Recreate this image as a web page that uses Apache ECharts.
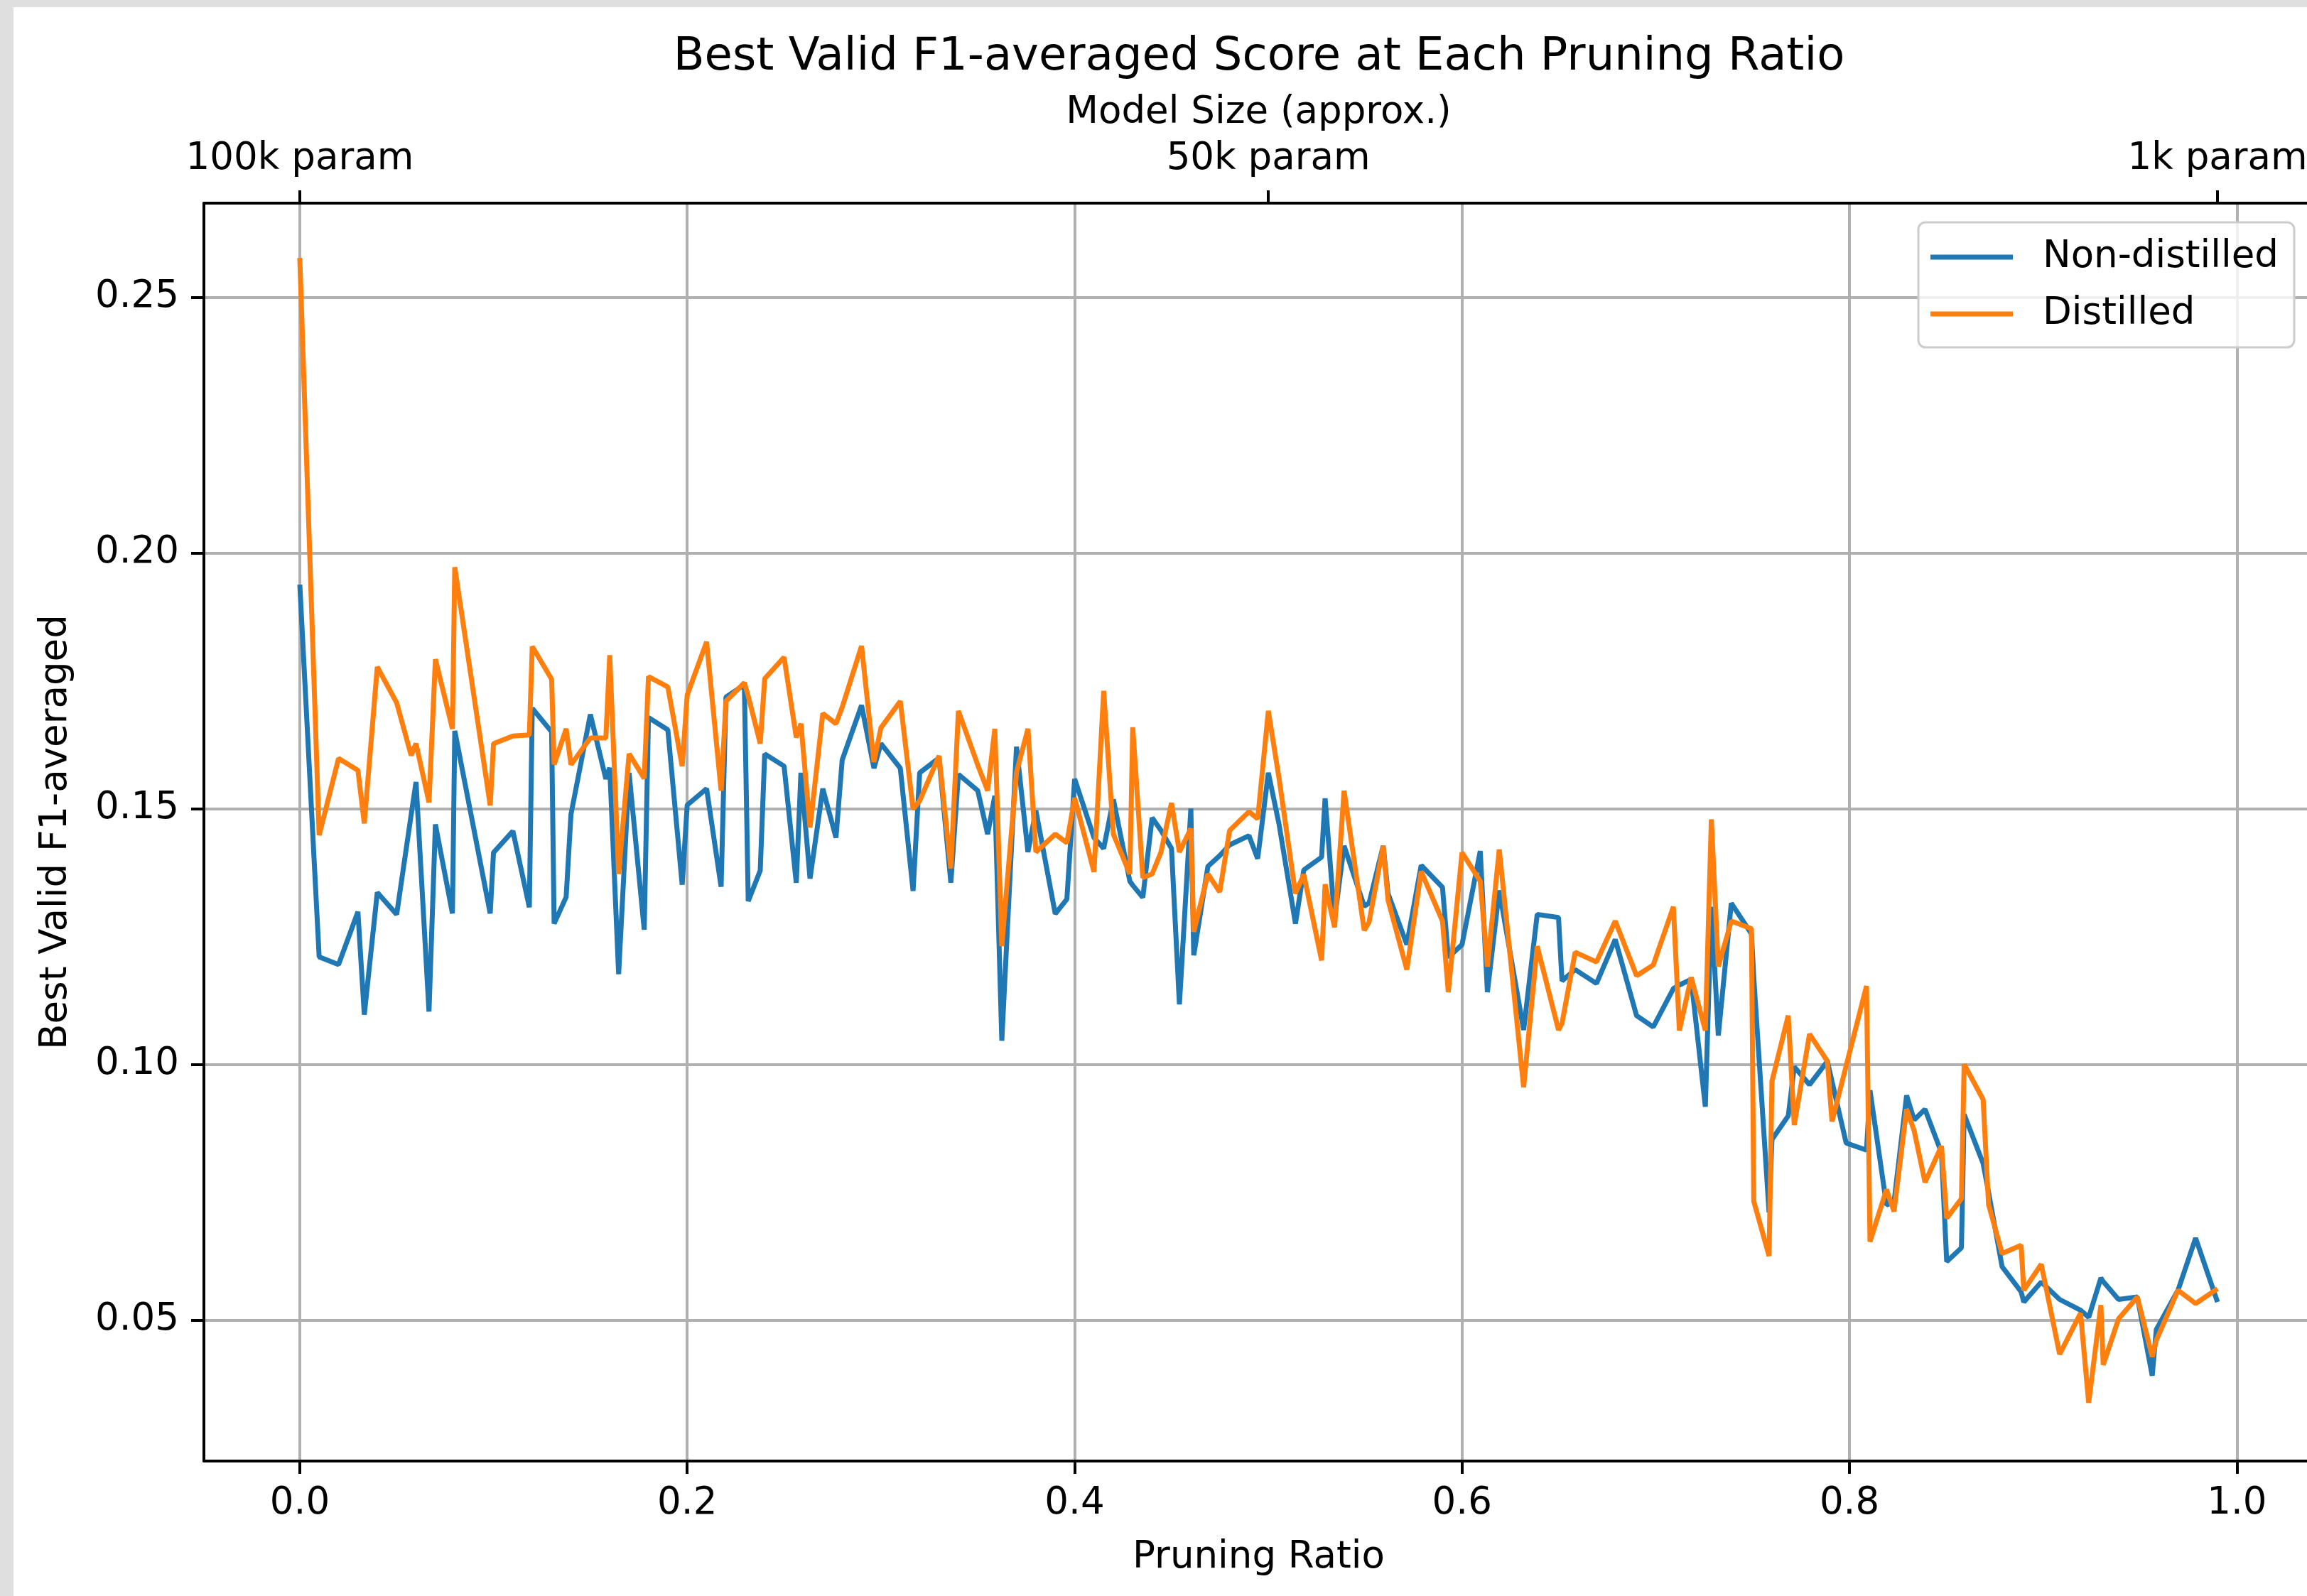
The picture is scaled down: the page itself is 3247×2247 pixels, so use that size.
<!DOCTYPE html>
<html>
<head>
<meta charset="utf-8">
<script src="https://cdn.jsdelivr.net/npm/echarts@6/dist/echarts.min.js"></script>
<style>
  html, body { margin: 0; padding: 0; background: #dfdfdf; }
  #chart { position: absolute; left: 19px; top: 10px; width: 3228px; height: 2237px; background: #fff; }
</style>
</head>
<body>
<div id="chart"></div>
<script>
// pruning ratios (x)
const ratios = [
  0, 0.01, 0.02, 0.03, 0.0333, 0.04, 0.05, 0.0575, 0.06, 0.0667,
  0.07, 0.0788, 0.08, 0.0983, 0.1, 0.11, 0.1185, 0.12, 0.13, 0.1313,
  0.1375, 0.14, 0.15, 0.158, 0.16, 0.1646, 0.17, 0.1778, 0.18, 0.19,
  0.1974, 0.2, 0.21, 0.2175, 0.22, 0.2295, 0.2315, 0.2377, 0.24, 0.25,
  0.2563, 0.2587, 0.2634, 0.27, 0.2768, 0.28, 0.29, 0.2964, 0.3, 0.31,
  0.3166, 0.32, 0.33, 0.3361, 0.34, 0.35, 0.3551, 0.3588, 0.3624, 0.37,
  0.3759, 0.38, 0.39, 0.396, 0.4, 0.41, 0.415, 0.42, 0.4285, 0.43,
  0.4352, 0.44, 0.4446, 0.45, 0.4541, 0.46, 0.4615, 0.4688, 0.4749, 0.48,
  0.49, 0.4945, 0.5, 0.5055, 0.514, 0.5183, 0.5275, 0.5293, 0.5342, 0.5391,
  0.5495, 0.552, 0.5593, 0.5618, 0.5715, 0.5789, 0.5899, 0.5929, 0.6, 0.6094,
  0.6131, 0.6192, 0.6318, 0.6388, 0.6498, 0.6516, 0.6584, 0.6694, 0.6791, 0.6901,
  0.6987, 0.7091, 0.7122, 0.7183, 0.7256, 0.7287, 0.7323, 0.739, 0.7494, 0.7506,
  0.7585, 0.76, 0.7684, 0.7715, 0.7794, 0.7886, 0.791, 0.7983, 0.8088, 0.8106,
  0.8191, 0.823, 0.8295, 0.8334, 0.839, 0.8475, 0.8502, 0.8578, 0.8592, 0.869,
  0.8718, 0.8788, 0.8886, 0.89, 0.899, 0.9085, 0.9193, 0.9235, 0.9298, 0.931,
  0.9389, 0.9486, 0.9563, 0.9584, 0.9696, 0.9787, 0.99
]

const nonDistilled = [
  0.1938, 0.1210, 0.1195, 0.1298, 0.1097, 0.1336, 0.1293, 0.1488, 0.1552, 0.1103,
  0.1469, 0.1295, 0.1652, 0.1295, 0.1414, 0.1456, 0.1307, 0.1696, 0.1650, 0.1275,
  0.1327, 0.1489, 0.1684, 0.1558, 0.1580, 0.1176, 0.1570, 0.1263, 0.1678, 0.1654,
  0.1351, 0.1507, 0.1539, 0.1347, 0.1718, 0.1742, 0.1319, 0.1379, 0.1607, 0.1583,
  0.1355, 0.1570, 0.1363, 0.1539, 0.1443, 0.1595, 0.1702, 0.1579, 0.1627, 0.1579,
  0.1339, 0.1570, 0.1599, 0.1355, 0.1567, 0.1535, 0.1450, 0.1525, 0.1046, 0.1621,
  0.1415, 0.1496, 0.1294, 0.1323, 0.1558, 0.1443, 0.1422, 0.1518, 0.1358, 0.1350,
  0.1326, 0.1482, 0.1457, 0.1422, 0.1117, 0.1500, 0.1213, 0.1387, 0.1408, 0.1429,
  0.1447, 0.1402, 0.1570, 0.1470, 0.1275, 0.1380, 0.1405, 0.1520, 0.1284, 0.1427,
  0.1309, 0.1315, 0.1427, 0.1334, 0.1234, 0.1389, 0.1346, 0.1209, 0.1234, 0.1417,
  0.1141, 0.1340, 0.1067, 0.1293, 0.1287, 0.1163, 0.1185, 0.1158, 0.1244, 0.1095,
  0.1073, 0.1148, 0.1155, 0.1166, 0.0917, 0.1308, 0.1056, 0.1315, 0.1255, 0.1170,
  0.0710, 0.0853, 0.0899, 0.0995, 0.0960, 0.1006, 0.0966, 0.0846, 0.0832, 0.0949,
  0.0725, 0.0730, 0.0939, 0.0891, 0.0912, 0.0827, 0.0614, 0.0641, 0.0902, 0.0806,
  0.0750, 0.0604, 0.0555, 0.0535, 0.0574, 0.0540, 0.0519, 0.0505, 0.0582, 0.0575,
  0.0540, 0.0545, 0.0391, 0.0481, 0.0558, 0.0660, 0.0535
]

const distilled = [
  0.2577, 0.1448, 0.1598, 0.1575, 0.1471, 0.1777, 0.1707, 0.1604, 0.1627, 0.1512,
  0.1792, 0.1656, 0.1972, 0.1506, 0.1627, 0.1642, 0.1644, 0.1817, 0.1753, 0.1586,
  0.1656, 0.1586, 0.1638, 0.1638, 0.1800, 0.1372, 0.1607, 0.1559, 0.1758, 0.1738,
  0.1583, 0.1722, 0.1826, 0.1535, 0.1710, 0.1746, 0.1720, 0.1627, 0.1754, 0.1796,
  0.1639, 0.1666, 0.1463, 0.1686, 0.1666, 0.1698, 0.1818, 0.1591, 0.1658, 0.1710,
  0.1499, 0.1515, 0.1603, 0.1383, 0.1691, 0.1585, 0.1535, 0.1656, 0.1231, 0.1571,
  0.1656, 0.1415, 0.1450, 0.1433, 0.1521, 0.1376, 0.1730, 0.1450, 0.1372, 0.1659,
  0.1365, 0.1372, 0.1415, 0.1511, 0.1415, 0.1461, 0.1259, 0.1372, 0.1337, 0.1457,
  0.1494, 0.1480, 0.1691, 0.1560, 0.1334, 0.1371, 0.1203, 0.1352, 0.1268, 0.1535,
  0.1262, 0.1278, 0.1427, 0.1321, 0.1185, 0.1377, 0.1280, 0.1141, 0.1414, 0.1358,
  0.1191, 0.1420, 0.0955, 0.1231, 0.1067, 0.1080, 0.1219, 0.1200, 0.1280, 0.1173,
  0.1194, 0.1308, 0.1066, 0.1170, 0.1066, 0.1479, 0.1191, 0.1280, 0.1265, 0.0732,
  0.0625, 0.0967, 0.1095, 0.0881, 0.1059, 0.1006, 0.0888, 0.0997, 0.1153, 0.0653,
  0.0755, 0.0712, 0.0912, 0.0870, 0.0769, 0.0840, 0.0699, 0.0737, 0.1000, 0.0931,
  0.0726, 0.0630, 0.0646, 0.0558, 0.0609, 0.0433, 0.0513, 0.0338, 0.0529, 0.0412,
  0.0502, 0.0545, 0.0428, 0.0460, 0.0558, 0.0532, 0.0561
]

const xTicks = [0, 0.2, 0.4, 0.6, 0.8, 1.0]
const xTickLabels = ['0.0', '0.2', '0.4', '0.6', '0.8', '1.0']
const yTicks = [0.05, 0.10, 0.15, 0.20, 0.25]
const yTickLabels = ['0.05', '0.10', '0.15', '0.20', '0.25']
const sizeTicks = [0, 0.5, 0.99]
const sizeLabels = ['100k param', '50k param', '1k param']

const FONT = 'DejaVu Sans'
const FS = 53

function pick(ticks, labels) {
  return function (value) {
    for (let i = 0; i < ticks.length; i++) {
      if (Math.abs(ticks[i] - value) < 1e-6) return labels[i]
    }
    return ''
  }
}

var chartDom = document.getElementById('chart');
var myChart = echarts.init(chartDom);
var option;

option = {
  animation: false,
  backgroundColor: '#ffffff',
  title: {
    text: 'Best Valid F1-averaged Score at Each Pruning Ratio',
    left: 1753,
    top: 39,
    padding: 0,
    textAlign: 'center',
    textStyle: { fontFamily: FONT, fontSize: 64, fontWeight: 'normal', color: '#000' }
  },
  legend: {
    data: ['Non-distilled', 'Distilled'],
    orient: 'vertical',
    right: 18,
    top: 303,
    icon: 'rect',
    itemWidth: 116,
    itemHeight: 7,
    itemGap: 20,
    padding: [19, 22, 17, 17],
    backgroundColor: 'rgba(255,255,255,0.8)',
    borderColor: '#cccccc',
    borderWidth: 3,
    borderRadius: 10,
    textStyle: { fontFamily: FONT, fontSize: FS, color: '#000', lineHeight: 60, padding: [0, 0, 0, 37] }
  },
  grid: {
    left: 268,
    top: 276,
    width: 2969,
    height: 1771,
    outerBoundsMode: 'none'
  },
  xAxis: [
    {
      type: 'value',
      position: 'bottom',
      min: -0.0495,
      max: 1.0395,
      name: 'Pruning Ratio',
      nameLocation: 'middle',
      nameGap: 110,
      nameTextStyle: { fontFamily: FONT, fontSize: FS, color: '#000' },
      axisLine: { show: true, onZero: false, lineStyle: { color: '#000', width: 4 } },
      axisTick: { show: true, length: 18, customValues: xTicks, lineStyle: { color: '#000', width: 4 } },
      axisLabel: {
        customValues: xTicks,
        formatter: pick(xTicks, xTickLabels),
        fontFamily: FONT, fontSize: FS, color: '#000', margin: 34
      },
      splitLine: { show: true, lineStyle: { color: '#b0b0b0', width: 4 } }
    },
    {
      type: 'value',
      position: 'top',
      min: -0.0495,
      max: 1.0395,
      name: 'Model Size (approx.)',
      nameLocation: 'middle',
      nameGap: 100,
      nameTextStyle: { fontFamily: FONT, fontSize: FS, color: '#000' },
      axisLine: { show: true, onZero: false, lineStyle: { color: '#000', width: 4 } },
      axisTick: { show: true, length: 18, customValues: sizeTicks, lineStyle: { color: '#000', width: 4 } },
      axisLabel: {
        customValues: sizeTicks,
        formatter: pick(sizeTicks, sizeLabels),
        fontFamily: FONT, fontSize: FS, color: '#000', margin: 35
      },
      splitLine: { show: false }
    }
  ],
  yAxis: {
    type: 'value',
    min: 0.0224,
    max: 0.2684,
    name: 'Best Valid F1-averaged',
    nameLocation: 'middle',
    nameGap: 181,
    nameRotate: 90,
    nameTextStyle: { fontFamily: FONT, fontSize: FS, color: '#000' },
    axisLine: { show: true, onZero: false, lineStyle: { color: '#000', width: 4 } },
    axisTick: { show: true, length: 18, customValues: yTicks, lineStyle: { color: '#000', width: 4 } },
    axisLabel: {
      customValues: yTicks,
      formatter: pick(yTicks, yTickLabels),
      fontFamily: FONT, fontSize: FS, color: '#000', margin: 35
    },
    splitLine: { show: true, lineStyle: { color: '#b0b0b0', width: 4 } }
  },
  series: [
    {
      name: 'Non-distilled',
      type: 'line',
      xAxisIndex: 0,
      showSymbol: false,
      color: '#1f77b4',
      lineStyle: { color: '#1f77b4', width: 7 },
      data: ratios.map((r, i) => [r, nonDistilled[i]])
    },
    {
      name: 'Distilled',
      type: 'line',
      xAxisIndex: 0,
      showSymbol: false,
      color: '#ff7f0e',
      lineStyle: { color: '#ff7f0e', width: 7 },
      data: ratios.map((r, i) => [r, distilled[i]])
    }
  ]
};

option && myChart.setOption(option);
</script>
</body>
</html>
